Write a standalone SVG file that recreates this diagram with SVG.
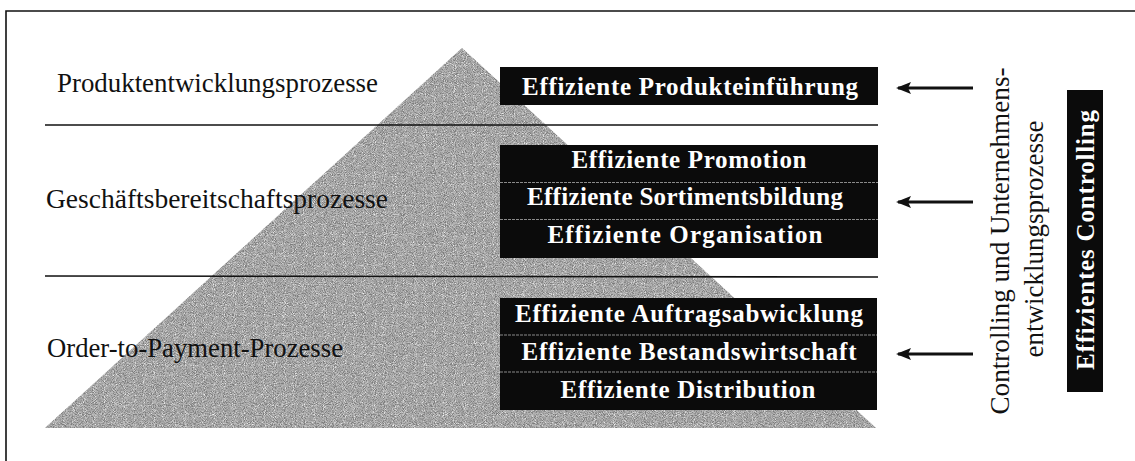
<svg xmlns="http://www.w3.org/2000/svg" width="1135" height="461" viewBox="0 0 1135 461">
  <style>
    .frame { stroke: #111; stroke-width: 1.6; fill: none; }
    .sep { stroke: #111; stroke-width: 1.6; }
    .label { font-family: "Liberation Serif", "Times New Roman", serif; font-size: 27px; fill: #111; }
    .box { fill: #0b0b0b; }
    .row { stroke: #8a8a8a; stroke-width: 1; stroke-dasharray: 3 1; }
    .btext { font-family: "Liberation Serif", "Times New Roman", serif; font-size: 25px; font-weight: bold; fill: #fff; text-anchor: middle; }
    .arrow { stroke: #111; stroke-width: 2.8; fill: none; }
    .side { font-family: "Liberation Serif", "Times New Roman", serif; font-size: 27px; fill: #111; text-anchor: middle; }
  </style>
  <defs>
    <marker id="head" viewBox="0 0 15 12" refX="13" refY="6" markerWidth="15" markerHeight="12" markerUnits="userSpaceOnUse" orient="auto">
      <path d="M15,6 L0,0 L3,6 L0,12 Z" fill="#111"/>
    </marker>
    <!-- stippled grey texture for the pyramid -->
    <filter id="stipple" x="0" y="0" width="1" height="1">
      <feTurbulence type="fractalNoise" baseFrequency="1.1" numOctaves="1" seed="7" result="noise"/>
      <feColorMatrix in="noise" type="matrix" values="0 0 0 0 0.2  0 0 0 0 0.2  0 0 0 0 0.2  3.6 0 0 0 -1.4" result="dark"/>
      <feColorMatrix in="noise" type="matrix" values="0 0 0 0 1  0 0 0 0 1  0 0 0 0 1  0 -3.6 0 0 1.5" result="light"/>
      <feMerge result="specks"><feMergeNode in="dark"/><feMergeNode in="light"/></feMerge>
      <feComposite in="specks" in2="SourceAlpha" operator="in" result="clipped"/>
      <feMerge><feMergeNode in="SourceGraphic"/><feMergeNode in="clipped"/></feMerge>
    </filter>
  </defs>

  <rect width="1135" height="461" fill="#fff"/>

  <!-- outer frame: top and left edge -->
  <path class="frame" d="M6,461 V11 H1135"/>

  <!-- pyramid -->
  <g id="pyramid">
    <polygon points="462,48 45,428 876,428" fill="#b6b6b6" filter="url(#stipple)"/>
  </g>

  <!-- level separators -->
  <g id="separators">
    <line class="sep" x1="45" y1="125" x2="878" y2="125"/>
    <line class="sep" x1="45" y1="276" x2="878" y2="277"/>
  </g>

  <!-- level labels -->
  <g id="level-product">
    <text class="label" x="57" y="92" textLength="321" lengthAdjust="spacingAndGlyphs">Produktentwicklungsprozesse</text>
  </g>
  <g id="level-readiness">
    <text class="label" x="46" y="208" textLength="342" lengthAdjust="spacingAndGlyphs">Geschäftsbereitschaftsprozesse</text>
  </g>
  <g id="level-order">
    <text class="label" x="47" y="357" textLength="296" lengthAdjust="spacingAndGlyphs">Order-to-Payment-Prozesse</text>
  </g>

  <!-- efficiency blocks -->
  <g id="block-product">
    <rect class="box" x="500" y="67" width="378" height="38"/>
    <text class="btext" x="690" y="95" textLength="336" lengthAdjust="spacing">Effiziente Produkteinführung</text>
  </g>
  <g id="block-readiness">
    <rect class="box" x="500" y="145" width="378" height="113"/>
    <line class="row" x1="500" y1="182.5" x2="878" y2="182.5"/>
    <line class="row" x1="500" y1="219.5" x2="878" y2="219.5"/>
    <text class="btext" x="689" y="168" textLength="235" lengthAdjust="spacing">Effiziente Promotion</text>
    <text class="btext" x="685" y="205" textLength="316" lengthAdjust="spacing">Effiziente Sortimentsbildung</text>
    <text class="btext" x="685" y="243" textLength="275" lengthAdjust="spacing">Effiziente Organisation</text>
  </g>
  <g id="block-order">
    <rect class="box" x="500" y="298" width="377" height="112"/>
    <line class="row" x1="500" y1="335" x2="877" y2="335"/>
    <line class="row" x1="500" y1="372" x2="877" y2="372"/>
    <text class="btext" x="689" y="322" textLength="348" lengthAdjust="spacing">Effiziente Auftragsabwicklung</text>
    <text class="btext" x="689" y="360" textLength="335" lengthAdjust="spacing">Effiziente Bestandswirtschaft</text>
    <text class="btext" x="688" y="398" textLength="255" lengthAdjust="spacing">Effiziente Distribution</text>
  </g>

  <!-- controlling influence arrows -->
  <g id="connectors">
    <line class="arrow" x1="973" y1="88" x2="898" y2="88" marker-end="url(#head)"/>
    <line class="arrow" x1="973" y1="202" x2="898" y2="202" marker-end="url(#head)"/>
    <line class="arrow" x1="973" y1="354" x2="898" y2="354" marker-end="url(#head)"/>
  </g>

  <!-- controlling process label -->
  <g id="controlling-process">
    <text class="side" transform="translate(1009,241) rotate(-90)" textLength="347" lengthAdjust="spacingAndGlyphs">Controlling und Unternehmens-</text>
    <text class="side" transform="translate(1043,239) rotate(-90)" textLength="237" lengthAdjust="spacingAndGlyphs">entwicklungsprozesse</text>
  </g>

  <g id="block-controlling">
    <rect class="box" x="1067" y="90" width="36" height="302"/>
    <text class="btext" transform="translate(1094,240) rotate(-90)" textLength="260" lengthAdjust="spacing">Effizientes Controlling</text>
  </g>
</svg>
